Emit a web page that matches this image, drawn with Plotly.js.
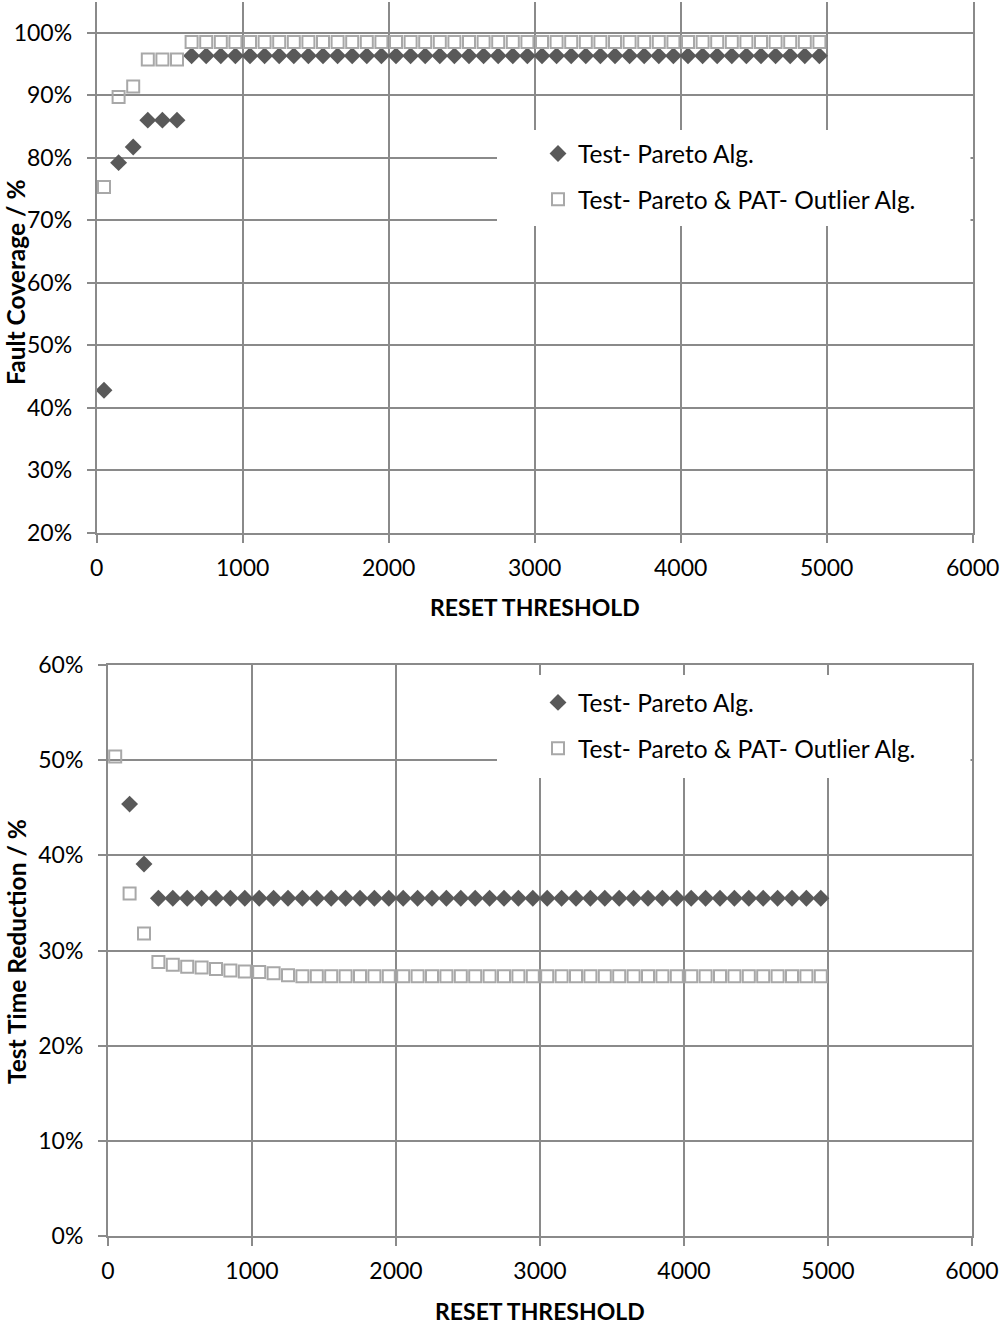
<!DOCTYPE html>
<html>
<head>
<meta charset="utf-8">
<script src="https://cdn.plot.ly/plotly-3.0.1.min.js"></script>
<style>
  html, body { margin: 0; padding: 0; background: #fff; }
  #chart { width: 1001px; height: 1327px; }
</style>
</head>
<body>
<div id="chart"></div>
<script>
// Reset threshold values (x) shared by both panels
const thresholds = [50, 150, 250, 350, 450, 550, 650, 750, 850, 950,
  1050, 1150, 1250, 1350, 1450, 1550, 1650, 1750, 1850, 1950,
  2050, 2150, 2250, 2350, 2450, 2550, 2650, 2750, 2850, 2950,
  3050, 3150, 3250, 3350, 3450, 3550, 3650, 3750, 3850, 3950,
  4050, 4150, 4250, 4350, 4450, 4550, 4650, 4750, 4850, 4950];

// Panel 1: fault coverage (%)
const coverageParetoX = thresholds;
const coveragePareto = [42.8, 79.2, 81.7, 86.0, 86.0, 86.0, 96.3, 96.3, 96.3, 96.3,
  96.3, 96.3, 96.3, 96.3, 96.3, 96.3, 96.3, 96.3, 96.3, 96.3,
  96.3, 96.3, 96.3, 96.3, 96.3, 96.3, 96.3, 96.3, 96.3, 96.3,
  96.3, 96.3, 96.3, 96.3, 96.3, 96.3, 96.3, 96.3, 96.3, 96.3,
  96.3, 96.3, 96.3, 96.3, 96.3, 96.3, 96.3, 96.3, 96.3, 96.3];
const coverageParetoPatX = thresholds;
const coverageParetoPat = [75.3, 89.7, 91.4, 95.7, 95.7, 95.7, 98.5, 98.5, 98.5, 98.5,
  98.5, 98.5, 98.5, 98.5, 98.5, 98.5, 98.5, 98.5, 98.5, 98.5,
  98.5, 98.5, 98.5, 98.5, 98.5, 98.5, 98.5, 98.5, 98.5, 98.5,
  98.5, 98.5, 98.5, 98.5, 98.5, 98.5, 98.5, 98.5, 98.5, 98.5,
  98.5, 98.5, 98.5, 98.5, 98.5, 98.5, 98.5, 98.5, 98.5, 98.5];

// Panel 2: test time reduction (%)
const reductionParetoX = [150, 250, 350, 450, 550, 650, 750, 850, 950,
  1050, 1150, 1250, 1350, 1450, 1550, 1650, 1750, 1850, 1950,
  2050, 2150, 2250, 2350, 2450, 2550, 2650, 2750, 2850, 2950,
  3050, 3150, 3250, 3350, 3450, 3550, 3650, 3750, 3850, 3950,
  4050, 4150, 4250, 4350, 4450, 4550, 4650, 4750, 4850, 4950];
const reductionPareto = [45.4, 39.1, 35.5, 35.5, 35.5, 35.5, 35.5, 35.5, 35.5,
  35.5, 35.5, 35.5, 35.5, 35.5, 35.5, 35.5, 35.5, 35.5, 35.5,
  35.5, 35.5, 35.5, 35.5, 35.5, 35.5, 35.5, 35.5, 35.5, 35.5,
  35.5, 35.5, 35.5, 35.5, 35.5, 35.5, 35.5, 35.5, 35.5, 35.5,
  35.5, 35.5, 35.5, 35.5, 35.5, 35.5, 35.5, 35.5, 35.5, 35.5];
const reductionParetoPatX = thresholds;
const reductionParetoPat = [50.4, 36.0, 31.8, 28.8, 28.5, 28.3, 28.2, 28.05, 27.9, 27.8,
  27.73, 27.6, 27.4, 27.3, 27.3, 27.3, 27.3, 27.3, 27.3, 27.3,
  27.3, 27.3, 27.3, 27.3, 27.3, 27.3, 27.3, 27.3, 27.3, 27.3,
  27.3, 27.3, 27.3, 27.3, 27.3, 27.3, 27.3, 27.3, 27.3, 27.3,
  27.3, 27.3, 27.3, 27.3, 27.3, 27.3, 27.3, 27.3, 27.3, 27.3];

// Labels
const seriesNames = ['Test- Pareto Alg.', 'Test- Pareto & PAT- Outlier Alg.'];
const xTitle = 'RESET THRESHOLD';
const yTitles = ['Fault Coverage / %', 'Test Time Reduction / %'];

// ---- page geometry helpers (pixels -> paper fractions) ----
const W = 1001, H = 1327;
const fx = px => px / W;
const fy = py => 1 - py / H;

const FONT = 'Lato, "Open Sans", sans-serif';
const GRID = '#8a8a8a';
const DIAMOND = '#595959';
const SQUARE = '#a8a8a8';

const diamondMarker = { symbol: 'diamond', size: 13, color: DIAMOND, line: { width: 0 } };
const squareMarker = { symbol: 'square-open', size: 12, color: SQUARE, line: { width: 2, color: SQUARE } };

const traces = [
  { x: coverageParetoX, y: coveragePareto, name: seriesNames[0], type: 'scatter', mode: 'markers',
    marker: diamondMarker, xaxis: 'x', yaxis: 'y', legend: 'legend', legendgroup: 'a1' },
  { x: coverageParetoPatX, y: coverageParetoPat, name: seriesNames[1], type: 'scatter', mode: 'markers',
    marker: squareMarker, xaxis: 'x', yaxis: 'y', legend: 'legend', legendgroup: 'b1' },
  { x: reductionParetoX, y: reductionPareto, name: seriesNames[0], type: 'scatter', mode: 'markers',
    marker: diamondMarker, xaxis: 'x2', yaxis: 'y2', legend: 'legend2', legendgroup: 'a2' },
  { x: reductionParetoPatX, y: reductionParetoPat, name: seriesNames[1], type: 'scatter', mode: 'markers',
    marker: squareMarker, xaxis: 'x2', yaxis: 'y2', legend: 'legend2', legendgroup: 'b2' }
];

const tickFont = { family: FONT, size: 23, color: '#000' };
const titleFont = { family: FONT, size: 23, color: '#000', weight: 'bold' };
const yTitleFont = { family: FONT, size: 24.5, color: '#000', weight: 'bold' };

function xAxis(domain, anchor, mirror) {
  return {
    domain: domain, anchor: anchor, range: [0, 6000], tick0: 0, dtick: 1000,
    showgrid: true, gridcolor: GRID, gridwidth: 2,
    showline: true, linecolor: GRID, linewidth: 2, mirror: mirror,
    ticks: 'outside', ticklen: 8, tickcolor: GRID, tickwidth: 2,
    tickfont: tickFont, ticklabelstandoff: 6, zeroline: false, fixedrange: true
  };
}
function yAxis(domain, anchor, range) {
  return {
    domain: domain, anchor: anchor, range: range, tick0: 0, dtick: 10, ticksuffix: '%',
    showgrid: true, gridcolor: GRID, gridwidth: 2,
    showline: true, linecolor: GRID, linewidth: 2, mirror: true,
    ticks: 'outside', ticklen: 8, tickcolor: GRID, tickwidth: 2,
    tickfont: tickFont, ticklabelstandoff: 10, zeroline: false, fixedrange: true
  };
}

const legendCommon = {
  font: { family: FONT, size: 24.5, color: '#000' },
  bgcolor: 'rgba(0,0,0,0)', borderwidth: 0,
  xanchor: 'left', yanchor: 'top', traceorder: 'grouped', tracegroupgap: 11
};

const layout = {
  width: W, height: H,
  margin: { l: 0, r: 0, t: 0, b: 0 },
  paper_bgcolor: '#fff', plot_bgcolor: '#fff',
  showlegend: true,
  xaxis: xAxis([fx(96.7), fx(972.7)], 'y', false),
  yaxis: yAxis([fy(532.7), fy(2)], 'x', [20, 104.9]),
  xaxis2: xAxis([fx(108), fx(972)], 'y2', true),
  yaxis2: yAxis([fy(1235.7), fy(665.3)], 'x2', [0, 60]),
  legend: Object.assign({ x: fx(538), y: fy(131) }, legendCommon),
  legend2: Object.assign({ x: fx(538), y: fy(680) }, legendCommon),
  shapes: [
    // white panels behind the legends
    { type: 'rect', xref: 'paper', yref: 'paper', x0: fx(497), x1: fx(970.5), y0: fy(226), y1: fy(130),
      fillcolor: '#fff', line: { width: 0 }, layer: 'above' },
    { type: 'rect', xref: 'paper', yref: 'paper', x0: fx(497), x1: fx(970.5), y0: fy(778), y1: fy(675),
      fillcolor: '#fff', line: { width: 0 }, layer: 'above' }
  ],
  annotations: [
    { text: xTitle, xref: 'paper', yref: 'paper', x: fx(534.7), y: fy(607), xanchor: 'center', yanchor: 'middle',
      showarrow: false, font: titleFont },
    { text: xTitle, xref: 'paper', yref: 'paper', x: fx(540), y: fy(1310.5), xanchor: 'center', yanchor: 'middle',
      showarrow: false, font: titleFont },
    { text: yTitles[0], xref: 'paper', yref: 'paper', x: fx(16), y: fy(282), xanchor: 'center', yanchor: 'middle',
      textangle: -90, showarrow: false, font: yTitleFont },
    { text: yTitles[1], xref: 'paper', yref: 'paper', x: fx(16), y: fy(952), xanchor: 'center', yanchor: 'middle',
      textangle: -90, showarrow: false, font: yTitleFont }
  ]
};

Plotly.newPlot('chart', traces, layout, { staticPlot: true, displayModeBar: false });
</script>
</body>
</html>
